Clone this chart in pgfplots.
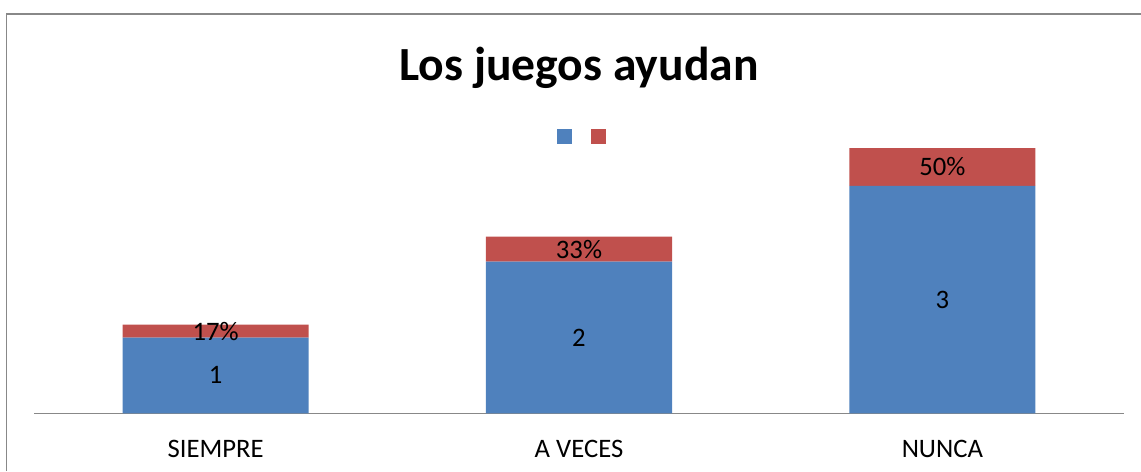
\documentclass[border=0pt]{standalone}
\usepackage{fontspec}
\setmainfont{Carlito}
\usepackage{pgfplots}
\usepackage{pgfplotstable}
\pgfplotsset{compat=1.18}
\definecolor{xlblue}{HTML}{4F81BD}
\definecolor{xlred}{HTML}{C0504D}
\definecolor{xlgray}{HTML}{888888}
\pgfplotstableread{
x y lab
0 1 1
1 2 2
2 3 3
}\bluedata
\pgfplotstableread{
x y lab
0 0.17 17
1 0.33 33
2 0.5 50
}\reddata
\begin{document}
\begin{tikzpicture}
\useasboundingbox (0pt,0pt) rectangle (855.75pt,-353.25pt);
\draw[xlgray, line width=1.1pt] (4.875pt,-353.25pt) -- (4.875pt,-10.5pt) -- (855.75pt,-10.5pt);
\begin{axis}[
  at={(25.5pt,-309.975pt)}, anchor=south west,
  width=817.5pt, height=227.4pt, scale only axis,
  xmin=-0.5, xmax=2.5, ymin=0, ymax=4,
  ybar stacked, bar width=0.512,
  /pgf/number format/assume math mode=true,
  axis x line*=bottom, axis y line=none,
  x axis line style={-, xlgray, line width=1pt},
  xtick={0,1,2}, xticklabels={SIEMPRE,A VECES,NUNCA},
  major tick length=0pt, ytick=\empty,
  xticklabel style={font=\fontsize{20}{24}\selectfont, anchor=base, yshift=-32.8pt},
  title={Los juegos ayudan},
  title style={at={(0.5,1)}, anchor=base, yshift=16.4pt, font=\fontsize{35.7}{42}\selectfont\bfseries},
  legend style={at={(0.5028,0.9136)}, anchor=center, draw=none, fill=none,
    legend columns=2, inner sep=0pt, nodes={inner sep=0pt},
    /tikz/every even column/.append style={column sep=13.5pt}},
  legend image code/.code={\fill[#1] (0pt,-5.625pt) rectangle (11.25pt,5.625pt);},
  every node near coord/.append style={anchor=center, text=black,
    font=\fontsize{20}{24}\selectfont},
]
\addplot[fill=xlblue, draw=none, point meta=explicit,
  nodes near coords={\pgfmathprintnumber{\pgfplotspointmeta}}]
  table[x=x, y=y, meta=lab] {\bluedata};
\addlegendentry{}
\addplot[fill=xlred, draw=none, point meta=explicit,
  nodes near coords={\pgfmathprintnumber{\pgfplotspointmeta}\%}]
  table[x=x, y=y, meta=lab] {\reddata};
\addlegendentry{}
\end{axis}
\end{tikzpicture}
\end{document}
